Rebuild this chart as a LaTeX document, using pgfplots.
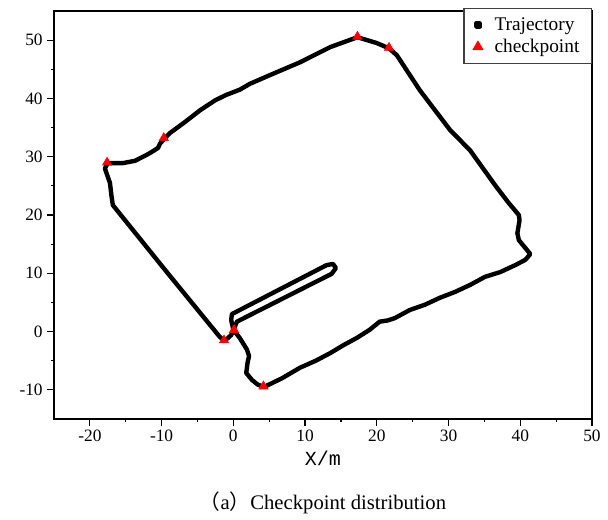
\documentclass[border=0pt]{standalone}
\usepackage{pgfplots}
\pgfplotsset{compat=1.18}
\usepackage{fontspec}
\setmainfont{Liberation Serif}
\newfontfamily\cjk{Noto Sans CJK SC}
\newfontfamily\monof{Liberation Mono}

\begin{document}
\begin{tikzpicture}
\begin{axis}[
  scale only axis,
  width=403.5pt, height=306pt,
  xmin=-25, xmax=50, ymin=-15, ymax=55,
  xtick={-20,-10,...,50}, ytick={-10,0,...,50},
  minor x tick num=1, minor y tick num=1,
  tick align=outside, xtick pos=left, ytick pos=left,
  major tick length=5pt, minor tick length=2.5pt,
  axis line style={line width=1pt},
  every tick/.style={black, line width=0.9pt},
  tick label style={font=\fontsize{13}{15}\selectfont},
  /pgf/number format/assume math mode=true,
  xlabel={\monof X/m},
  xlabel style={font=\fontsize{15}{18}\selectfont},
  legend style={at={(1,1.008)}, anchor=north east,
    font=\fontsize{14.5}{17}\selectfont, draw=black!75, line width=0.9pt,
    inner xsep=7pt, inner ysep=5pt, row sep=1pt,
    /tikz/every odd column/.append style={column sep=7pt}},
  legend cell align=left,
]
\addplot[black, line width=3.3pt, line join=round,
  legend image code/.code={\fill[black] (0.3cm-1.3pt,-1.3pt) rectangle (0.3cm+1.3pt,1.3pt);}]
coordinates {
(0.0,0.3) (0.9,-1.1) (1.9,-3.1) (2.2,-4.2) (2.0,-5.2) (1.8,-7.1) (2.6,-8.3)
(3.4,-9.1) (4.3,-9.5) (6.8,-8.0) (9.3,-6.2) (11.5,-5.0) (13.5,-3.7)
(15.4,-2.3) (17.2,-1.1) (19.0,0.3) (20.4,1.7) (21.5,1.9) (22.5,2.3)
(24.6,3.7) (26.7,4.6) (28.8,5.8) (30.9,6.8) (33.0,8.0) (35.1,9.4)
(37.2,10.2) (39.3,11.4) (40.7,12.3) (41.4,13.3) (39.8,15.7) (39.6,16.9)
(39.9,19.1) (39.8,20.0) (38.3,22.2) (36.5,25.1) (33.0,31.1) (30.2,34.6)
(26.0,41.4) (22.8,47.4) (21.7,48.6) (20.0,49.5) (17.3,50.5) (13.5,48.8)
(9.3,46.2) (5.1,44.0) (2.3,42.5) (0.9,41.5) (-1.0,40.6) (-2.5,39.7)
(-4.6,38.0) (-6.8,35.9) (-8.9,34.0) (-9.5,33.2) (-10.2,32.3) (-10.5,31.5)
(-11.4,30.8) (-12.1,30.3) (-13.7,29.3) (-15.4,28.9) (-16.5,28.9)
(-17.5,28.9) (-17.9,28.0) (-17.6,26.9) (-17.2,25.5) (-17.0,23.4)
(-16.8,21.7) (-9.4,10.4) (-1.9,-0.9) (-1.2,-1.6) (-0.3,-0.6) (0.0,0.3)
(-0.3,2.0) (-0.2,3.0) (13.0,11.4) (13.9,11.6) (14.3,10.9) (13.7,9.9)
(0.5,1.7) (0.1,0.5)
};
\addlegendentry{Trajectory}
\addplot[only marks, mark=triangle*, mark size=4pt, color=red] coordinates {
(-17.6,29.0) (-9.7,33.2) (17.3,50.6) (21.7,48.7) (-1.3,-1.5) (0.1,0.3) (4.2,-9.4)
};
\addlegendentry{checkpoint}
\end{axis}
\node[font=\fontsize{15.5}{18}\selectfont] at (201.75pt,-63pt)
  {{\cjk （}a{\cjk ）}Checkpoint distribution};
\pgfresetboundingbox
\path[use as bounding box] (-40.5pt,-75.75pt) rectangle (415.5pt,314.25pt);
\end{tikzpicture}
\end{document}
